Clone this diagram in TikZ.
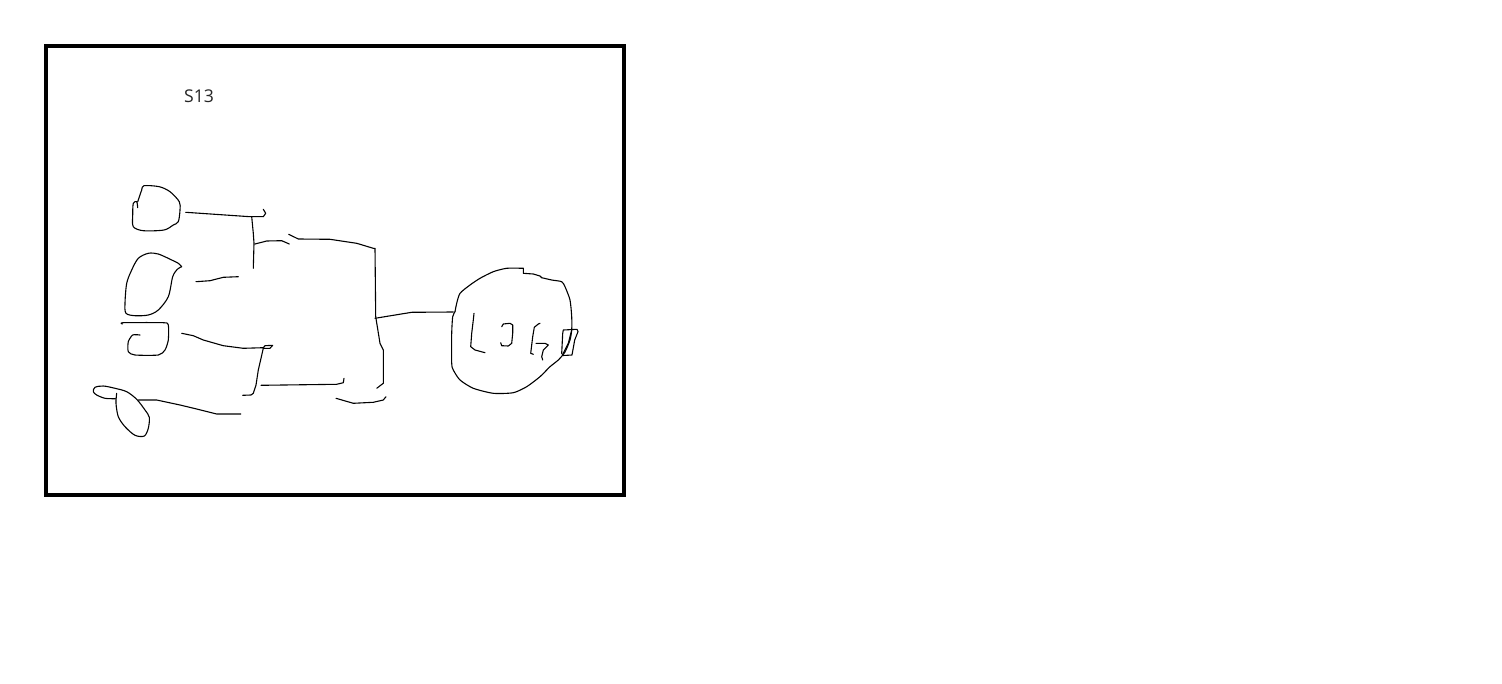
\documentclass[tikz,border=0pt]{standalone}
\usepackage{fontspec}
\setmainfont{Open Sans}
\begin{document}
\begin{tikzpicture}[x=0.5pt,y=-0.5pt,
  ink/.style={line width=0.55pt,line join=round,line cap=round,black},
  frame/.style={line width=2pt,black},
  lbl/.style={font=\fontsize{8.8}{10}\selectfont,text=black!85,inner sep=0pt}]
\useasboundingbox (0,0) rectangle (1502,684);
\fill[white] (0,0) rectangle (1502,684);
\draw[frame] (46,46) rectangle (624,495);
\node[lbl] (title) at (199,96) {S13};
% blob 1
\draw[ink] plot[smooth,tension=0.5] coordinates {(137.7,207.7)(136.7,201.7)(133.3,203.3)(132.7,215)(133.3,226.7)(143.3,230.7)(164,230)(173.3,225)(178.3,221.7)(180,210)(179.3,201.7)(170,191.7)(159.3,186.7)(144,185.7)(141.7,190)(137.7,201.7)};
\draw[ink] (185.7,212.3) -- (250,216.7) -- (263.3,216.7) -- (265.7,213.3) -- (263.3,209.3);
\draw[ink] (251.7,216.7) -- (253.3,233.3) -- (254,243.3) -- (253.3,268.3);
\draw[ink] (255,244) -- (266.7,241) -- (281.7,240.7) -- (289.3,244);
\draw[ink] (288.7,234.3) -- (298.3,239) -- (330,239.3) -- (356.7,243.3) -- (373.3,248.3) -- (375,248.3) -- (375.7,316.7) -- (380,343.3) -- (383.3,350) -- (383.3,383.3) -- (376.7,388.3);
\draw[ink] (375,318.3) -- (411.7,312.3) -- (453.3,312);
\draw[ink] (336,398.3) -- (353.3,403.3) -- (373.3,402.3) -- (383.3,400) -- (386,396.7);
% blob 2
\draw[ink] plot[smooth,tension=0.5] coordinates {(181.7,266.7)(177.3,269.3)(172.7,276.7)(168.3,296.7)(158.3,310)(148.3,315)(135,315.7)(126,313.3)(125,303.3)(126.7,283.3)(131.7,270)(138.3,258.3)(148.3,253.3)(158.3,254)(171.7,260)(178.3,263.3)(181.7,266.7)};
\draw[ink] (196,281.7) -- (210,280.7) -- (223.3,277.3) -- (238.3,276.7);
% blob 3
\draw[ink] plot[smooth,tension=0.4] coordinates {(140,335)(132.7,335)(128.3,341.7)(128.3,351.7)(135,355)(158.3,355)(165,350)(168.3,340)(168.3,325)(163.3,322.7)(123.3,322.7)(122.3,324)};
\draw[ink] (181.7,333.3) -- (193.3,335.7) -- (203.3,340) -- (223.3,345.7) -- (243.3,348.3) -- (263.3,347.7) -- (265,345.7) -- (272.7,345.3) -- (270,348.3) -- (263.3,348.3) -- (258.3,370) -- (256,385) -- (253.3,393.3) -- (251,395) -- (242.7,395.3);
\draw[ink] (261,385.3) -- (336.7,384.3) -- (343.3,382.7) -- (344,378.3);
% blob 4
\draw[ink] plot[smooth,tension=0.5] coordinates {(115,398.7)(105,398.3)(96.7,395)(93.3,391.7)(95,387.3)(103.3,386)(115,388.3)(126.7,391.7)(136.7,399.3)(145,410)(149.3,417.3)(148.3,428.3)(144.3,436)(135,435.3)(125,426.7)(118.3,416.7)(116,403.3)(116.7,393.3)};
\draw[ink] (138.3,400) -- (156.7,400) -- (180,405) -- (196.7,409) -- (216.7,414) -- (240.7,414);
% logo circle
\draw[ink] plot[smooth,tension=0.4] coordinates {(455,311.7)(456.7,303.3)(460,293.3)(470,285)(480,278.3)(493.3,271.7)(506.7,268.3)(523.3,268.3)};
\draw[ink] (523.3,268.3) -- (523.3,273.3) -- (533.3,274) -- (540,276) -- (541.7,277.7);
\draw[ink] plot[smooth,tension=0.4] coordinates {(541.7,277.7)(551.7,280)(561.7,281.7)(565,286.7)(570,300)(571.7,316.7)(571.7,330)(570,340)(565,352)(558.3,360)(550,366.7)(540,376.7)(526.7,386.7)(513.3,392.7)(493.3,393.3)(473.3,388.3)(460,380)(453.3,370)(451.7,363.3)(451.7,333.3)(452.7,316.7)(455,311.7)};
% letters
\draw[ink] (474,313.3) -- (473.3,320) -- (471.7,333.3) -- (470.7,346.7) -- (475,350) -- (485,352.7);
\draw[ink] (501.7,326.7) -- (503.3,324) -- (510,323.3) -- (512.7,325) -- (512.7,333.3) -- (511.7,343.3) -- (508.3,346) -- (501.7,345.7) -- (500.7,342.7);
\draw[ink] (540,323.3) -- (538.3,324) -- (534.3,327.3) -- (532.7,336.7) -- (530.7,353.3) -- (533.3,354.3);
\draw[ink] (536,343.3) -- (545,343.3) -- (548.3,345) -- (543.3,350) -- (541.7,356.7) -- (542.7,360);
\draw[ink] (563.3,330) -- (577,329.3) -- (578,331.7) -- (574.7,340) -- (572,355) -- (563.3,355.5) -- (561.7,353.3) -- (562.7,333.3) -- (563.3,330);
\draw[ink] (571.7,330) -- (568.3,343.3) -- (563.3,353.3);
\end{tikzpicture}
\end{document}
